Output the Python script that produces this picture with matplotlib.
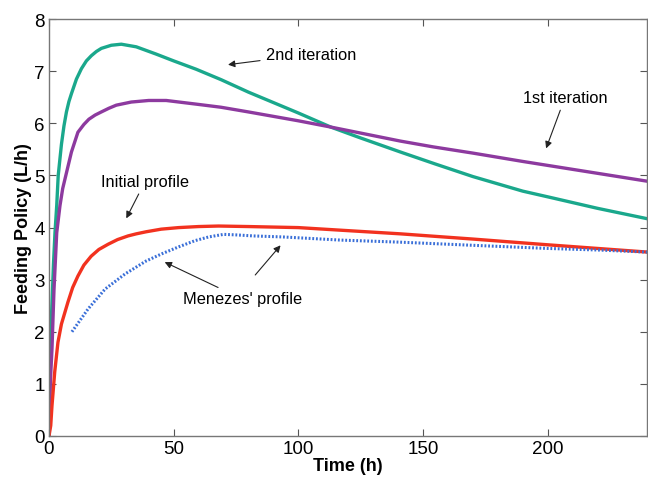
import matplotlib
matplotlib.use("Agg")
import matplotlib.pyplot as plt

# Feeding policy profiles (time in h, flow in L/h)
t_2nd = [0, 0.5, 1, 1.8, 2.4, 3.1, 3.7, 5, 6, 7, 8, 9, 11, 13, 15, 17, 19, 21, 25, 29, 35,
         43, 50, 59, 69, 80, 90, 100, 113, 125, 141, 155, 170, 190, 201, 220, 240]
f_2nd = [0, 1.2, 2.3, 3.3, 3.9, 4.42, 5.0, 5.6, 5.95, 6.22, 6.42, 6.57, 6.85, 7.05, 7.2, 7.3,
         7.38, 7.44, 7.5, 7.52, 7.47, 7.33, 7.2, 7.04, 6.84, 6.6, 6.4, 6.2, 5.93, 5.72, 5.45,
         5.22, 4.98, 4.7, 4.58, 4.37, 4.17]

t_1st = [0, 0.5, 1.2, 2, 3.1, 4.4, 5.5, 7.1, 9, 11.6, 14, 16, 18.5, 21, 24, 27, 33, 40, 47,
         59, 69, 80, 100, 113, 141, 154, 170, 190, 215, 240]
f_1st = [0, 1.0, 1.67, 2.8, 3.9, 4.42, 4.75, 5.07, 5.45, 5.83, 5.98, 6.08, 6.16, 6.22, 6.29,
         6.35, 6.41, 6.44, 6.44, 6.37, 6.31, 6.22, 6.05, 5.93, 5.66, 5.55, 5.43, 5.27, 5.08,
         4.89]

t_init = [0, 0.7, 1.2, 2.3, 3.6, 5, 7.6, 9.5, 11.6, 14, 16.9, 20, 23.7, 27.5, 31.7, 35, 39,
          45, 52, 60, 68, 80, 90, 100, 117, 141, 170, 200, 220, 240]
f_init = [0, 0.2, 0.58, 1.23, 1.8, 2.15, 2.57, 2.85, 3.07, 3.28, 3.45, 3.58, 3.68, 3.77, 3.84,
          3.88, 3.92, 3.97, 4.0, 4.02, 4.03, 4.02, 4.01, 4.0, 3.95, 3.88, 3.78, 3.67, 3.6,
          3.53]

t_men = [9.2, 15.7, 22.5, 30.5, 39, 45.4, 52, 58.6, 64, 70, 75, 82, 94, 117, 141, 170, 200,
         220, 240]
f_men = [2.0, 2.44, 2.82, 3.11, 3.36, 3.5, 3.63, 3.75, 3.82, 3.87, 3.86, 3.84, 3.82, 3.76,
         3.72, 3.66, 3.6, 3.57, 3.53]

plt.rcParams["font.family"] = ["Liberation Sans", "DejaVu Sans"]

fig = plt.figure(figsize=(6.48, 4.81), dpi=100)
ax = fig.add_axes([0.0756, 0.0915, 0.9234, 0.8665])

ax.plot(t_2nd, f_2nd, color="#1aa88c", lw=2.4)
ax.plot(t_1st, f_1st, color="#8d3a9f", lw=2.4)
ax.plot(t_init, f_init, color="#f2321f", lw=2.4)
ax.plot(t_men, f_men, color="#3a6fd8", lw=2.2, linestyle=(0, (0.6, 0.6)))

ax.set_xlim(0, 240)
ax.set_ylim(0, 8)
ax.set_xticks([0, 50, 100, 150, 200])
ax.set_yticks(range(0, 9))
ax.tick_params(direction="in", top=True, right=True, labelsize=13.5, length=5,
               color="#555555", pad=3)
for s in ax.spines.values():
    s.set_color("#777777")
    s.set_linewidth(1.0)

ax.set_xlabel("Time (h)", fontsize=13, fontweight="bold", labelpad=0)
ax.set_ylabel("Feeding Policy (L/h)", fontsize=13, fontweight="bold", labelpad=2)

arrow = dict(arrowstyle="-|>", color="#222222", lw=0.8, mutation_scale=10)
ax.annotate("2nd iteration", xy=(70.7, 7.12), xytext=(105, 7.33), fontsize=11.8,
            ha="center", va="center", arrowprops=arrow)
ax.annotate("1st iteration", xy=(199, 5.47), xytext=(207, 6.5), fontsize=11.8,
            ha="center", va="center", arrowprops=arrow)
ax.annotate("Initial profile", xy=(30.5, 4.13), xytext=(38.6, 4.89), fontsize=11.8,
            ha="center", va="center", arrowprops=arrow)
ax.annotate("Menezes' profile", xy=(45.4, 3.36), xytext=(77.5, 2.63), fontsize=11.8,
            ha="center", va="center", arrowprops=arrow)
ax.annotate("", xy=(93.6, 3.7), xytext=(82, 3.05), arrowprops=arrow)

fig.savefig("out.png", dpi=100)
